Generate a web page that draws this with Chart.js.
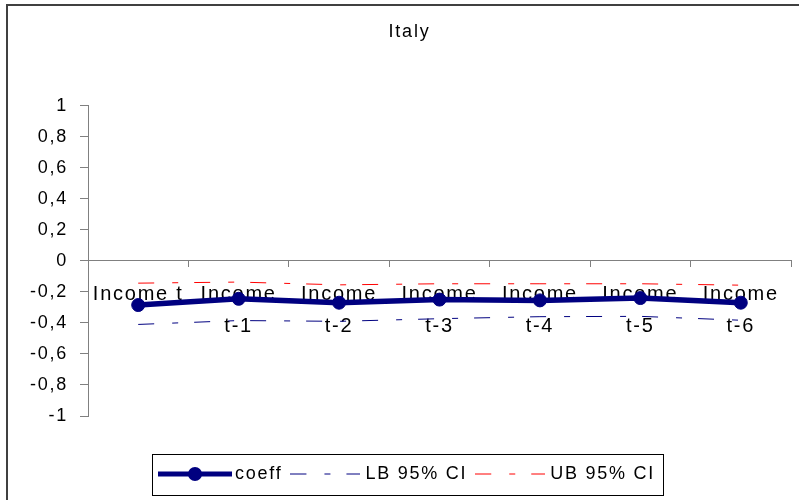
<!DOCTYPE html>
<html>
<head>
<meta charset="utf-8">
<script src="https://cdn.jsdelivr.net/npm/chart.js@4"></script>
<style>
  body { margin: 0; background: #fff; }
  canvas { display: block; }
</style>
</head>
<body>
<canvas id="italyChart" width="799" height="500"></canvas>
<script>
// categories and series
const categories = ['Income t', ['Income', 't-1'], ['Income', 't-2'], ['Income', 't-3'], ['Income', 't-4'], ['Income', 't-5'], ['Income', 't-6']];
const coeff = [-0.285, -0.245, -0.27, -0.25, -0.255, -0.24, -0.27];
const lowerBound = [-0.41, -0.385, -0.39, -0.373, -0.36, -0.358, -0.383];
const upperBound = [-0.144, -0.137, -0.155, -0.148, -0.148, -0.148, -0.157];
const yTickLabels = ['-1', '-0,8', '-0,6', '-0,4', '-0,2', '0', '0,2', '0,4', '0,6', '0,8', '1'];
const seriesNames = ['coeff', 'LB 95% CI', 'UB 95% CI'];

const navy = '#000080';
const red = '#ff0000';
const axisGray = '#808080';
const dashPattern = [16, 18, 6, 16];

Chart.defaults.font.family = "'Liberation Sans', Arial, sans-serif";
Chart.defaults.font.size = 18;
Chart.defaults.color = '#000';

// small canvases used as legend samples
function lineSample(color, width, dash, marker) {
    const w = marker ? 74 : 70;
    const c = document.createElement('canvas');
    c.width = w;
    c.height = 16;
    const g = c.getContext('2d');
    g.strokeStyle = color;
    g.lineWidth = width;
    g.setLineDash(dash);
    g.beginPath();
    g.moveTo(0, 8);
    g.lineTo(w, 8);
    g.stroke();
    if (marker) {
        g.fillStyle = color;
        g.beginPath();
        g.arc(w / 2, 8, 7, 0, Math.PI * 2);
        g.fill();
    }
    return c;
}
const legendSamples = [
    lineSample(navy, 5, [], true),
    lineSample(navy, 1, dashPattern, false),
    lineSample(red, 1, dashPattern, false)
];

// Excel text looks a bit spaced out
const letterSpacing = {
    id: 'letterSpacing',
    beforeUpdate(chart) { chart.ctx.letterSpacing = '1.75px'; },
    beforeDraw(chart) { chart.ctx.letterSpacing = '1.75px'; }
};

// outer chart frame and legend box
const frames = {
    id: 'frames',
    afterDraw(chart) {
        const ctx = chart.ctx;
        ctx.save();
        ctx.strokeStyle = '#404040';
        ctx.lineWidth = 2;
        ctx.beginPath();
        ctx.moveTo(7, chart.height);
        ctx.lineTo(7, 5);
        ctx.lineTo(chart.width, 5);
        ctx.stroke();

        const hb = chart.legend.legendHitBoxes;
        if (hb && hb.length) {
            const last = hb[hb.length - 1];
            const left = Math.round(hb[0].left - 12) + 0.5;
            const right = Math.round(last.left + last.width + 8) + 0.5;
            const cy = hb[0].top + hb[0].height / 2;
            const top = Math.round(cy - 20) + 0.5;
            const bottom = Math.round(cy + 21) + 0.5;
            ctx.strokeStyle = '#000';
            ctx.lineWidth = 1;
            ctx.strokeRect(left, top, right - left, bottom - top);
        }
        ctx.restore();
    }
};

new Chart(document.getElementById('italyChart'), {
    type: 'line',
    data: {
        labels: categories,
        datasets: [{
            label: seriesNames[0],
            data: coeff,
            borderColor: navy,
            backgroundColor: navy,
            borderWidth: 5.5,
            pointRadius: 6.5,
            pointBorderWidth: 1,
            pointBackgroundColor: navy,
            pointBorderColor: navy,
            tension: 0,
            fill: false
        }, {
            label: seriesNames[1],
            data: lowerBound,
            borderColor: navy,
            borderWidth: 1,
            borderDash: dashPattern,
            pointRadius: 0,
            tension: 0,
            fill: false
        }, {
            label: seriesNames[2],
            data: upperBound,
            borderColor: red,
            borderWidth: 1,
            borderDash: dashPattern,
            pointRadius: 0,
            tension: 0,
            fill: false
        }]
    },
    options: {
        responsive: false,
        animation: false,
        layout: { padding: { left: 28, right: 8, top: 0, bottom: 7 } },
        plugins: {
            title: {
                display: true,
                text: 'Italy',
                color: '#000',
                font: { size: 18, weight: 'normal', lineHeight: 1.2 },
                padding: { top: 21, bottom: 63 }
            },
            legend: {
                position: 'bottom',
                title: { display: true, text: '', padding: 0, font: { size: 10, lineHeight: '37px' } },
                labels: {
                    usePointStyle: true,
                    pointStyleWidth: 62,
                    padding: 12,
                    color: '#000',
                    font: { size: 18 },
                    generateLabels: () => seriesNames.map((name, i) => ({
                        text: name,
                        pointStyle: legendSamples[i],
                        fillStyle: 'transparent',
                        strokeStyle: 'transparent',
                        lineWidth: 0,
                        hidden: false,
                        datasetIndex: i,
                        fontColor: '#000'
                    }))
                }
            },
            tooltip: { enabled: false }
        },
        scales: {
            x: {
                position: { y: 0 },
                offset: true,
                grid: {
                    offset: true,
                    drawOnChartArea: false,
                    drawTicks: true,
                    tickLength: 6,
                    color: axisGray
                },
                border: { display: true, color: axisGray, width: 1 },
                ticks: {
                    autoSkip: false,
                    maxRotation: 0,
                    padding: 12,
                    color: '#000',
                    font: { size: 20, lineHeight: '32px' }
                }
            },
            y: {
                min: -1,
                max: 1,
                afterFit: scale => { scale.width = 60; },
                grid: {
                    drawOnChartArea: false,
                    drawTicks: true,
                    tickLength: 8,
                    color: axisGray
                },
                border: { display: true, color: axisGray, width: 1 },
                ticks: {
                    stepSize: 0.2,
                    padding: 12,
                    color: '#000',
                    font: { size: 18 },
                    callback: (value, index) => yTickLabels[index]
                }
            }
        }
    },
    plugins: [letterSpacing, frames]
});
</script>
</body>
</html>
